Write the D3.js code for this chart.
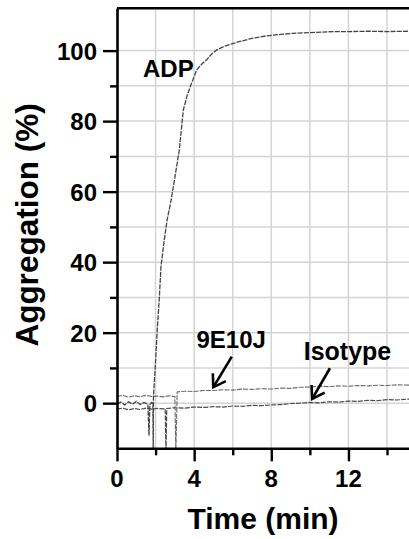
<!DOCTYPE html>
<html>
<head>
<meta charset="utf-8">
<script src="https://cdn.jsdelivr.net/npm/d3@7"></script>
<style>
  html, body { margin: 0; padding: 0; background: #fff; }
  svg { display: block; }
  text { font-family: "Liberation Sans", Arial, Helvetica, sans-serif; font-weight: 700; fill: #000; }
</style>
</head>
<body>
<svg id="chart" width="409" height="539"></svg>
<script>
// Aggregometry traces: time (min) vs aggregation (%)
const adpTrace = [
  [0, -0.2], [0.2, 0.3], [0.4, -0.5], [0.6, 0.4], [0.8, -0.3], [1.0, 0.5], [1.2, -0.4],
  [1.4, 0.2], [1.6, -0.3], [1.66, -9.2], [1.70, -0.4], [1.80, 0.2], [1.86, -0.3],
  [1.88, -14], [1.89, 1.9], [2.0, 12], [2.1, 22], [2.19, 29.4], [2.28, 38.7], [2.45, 46.3],
  [2.6, 52], [2.78, 56.8], [3.0, 64], [3.23, 71.8], [3.44, 83.2], [3.65, 87.5], [3.87, 90.8],
  [4.13, 94.5], [4.4, 96.2], [4.65, 97.4], [4.9, 99.0], [5.17, 100.2], [5.6, 101.3],
  [6.0, 102.0], [6.37, 102.6], [7.0, 103.5], [7.76, 104.2], [8.5, 104.6], [9.12, 104.9],
  [10, 105.1], [11.2, 105.4], [12, 105.4], [13, 105.5], [14, 105.4], [15.2, 105.5]
];
const mAbTrace = [
  [0, 1.9], [0.3, 2.2], [0.6, 1.7], [0.9, 2.1], [1.2, 1.8], [1.5, 2.2], [1.8, 1.9], [2.1, 2.0],
  [2.4, 1.8], [2.7, 2.1], [3.0, 1.9], [3.05, -14], [3.12, 3.2], [3.5, 3.4], [4, 3.3], [4.5, 3.6],
  [5, 3.6], [5.5, 3.8], [6, 3.7], [6.5, 4.0], [7, 3.9], [7.5, 4.1], [8, 4.0], [8.5, 4.3],
  [9, 4.2], [9.5, 4.5], [10, 4.6], [10.5, 4.8], [11, 4.7], [11.5, 4.9], [12, 4.8], [12.5, 5.0],
  [13, 4.9], [13.5, 5.1], [14, 5.0], [14.5, 5.2], [15.2, 5.1]
];
const isotypeTrace = [
  [0, -1.7], [0.3, -1.4], [0.6, -1.9], [0.9, -1.5], [1.2, -1.8], [1.5, -1.4], [1.8, -1.7],
  [2.1, -1.5], [2.5, -1.6], [2.54, -14], [2.58, -1.5], [3, -1.3], [3.5, -1.4], [4, -1.1],
  [4.5, -1.2], [5, -1.0], [5.5, -1.1], [6, -0.8], [6.5, -0.9], [7, -0.6], [7.5, -0.7], [8, -0.5],
  [8.5, -0.4], [9, -0.1], [9.5, 0.0], [10, 0.2], [10.5, 0.1], [11, 0.4], [11.5, 0.3], [12, 0.6],
  [12.5, 0.5], [13, 0.8], [13.5, 0.7], [14, 1.0], [14.5, 0.9], [15.2, 1.2]
];

const xMajorTicks = [0, 4, 8, 12];
const xMinorTicks = [2, 6, 10, 14];
const yMajorTicks = [0, 20, 40, 60, 80, 100];
const yMinorTicks = [10, 30, 50, 70, 90];
const xGrid = [2, 4, 6, 8, 10, 12, 14];
const yGrid = [0, 10, 20, 30, 40, 50, 60, 70, 80, 90, 100];

// labels: text, anchor point (t, %)
const traceLabels = [
  { text: "ADP", t: 1.35, v: 92.6, size: 24 },
  { text: "9E10J", t: 4.12, v: 15.6, size: 24 },
  { text: "Isotype", t: 9.68, v: 12.3, size: 25 }
];
// arrows: tail -> tip in data units
const arrows = [
  { from: [5.95, 13.2], to: [4.99, 4.5] },
  { from: [11.04, 9.9], to: [10.12, 1.2] }
];

const svg = d3.select("#chart");
const plotL = 117, plotR = 409.2, plotT = 8.3, plotB = 448.3;

const x = d3.scaleLinear().domain([0, 15.15]).range([plotL, plotR]);
const y = d3.scaleLinear().domain([-12.8, 112]).range([plotB, plotT]);

svg.append("defs").append("clipPath").attr("id", "plot")
  .append("rect").attr("x", plotL).attr("y", plotT).attr("width", plotR - plotL).attr("height", plotB - plotT);

// grid
const grid = svg.append("g").attr("stroke", "#d4d4d4").attr("stroke-width", 1.5);
grid.selectAll(".gx").data(xGrid).join("line").attr("class", "gx")
  .attr("x1", d => x(d)).attr("x2", d => x(d)).attr("y1", plotT).attr("y2", plotB);
grid.selectAll(".gy").data(yGrid).join("line").attr("class", "gy")
  .attr("x1", plotL).attr("x2", plotR).attr("y1", d => y(d)).attr("y2", d => y(d));

// traces
const line = d3.line().x(d => x(d[0])).y(d => y(d[1]));
const traces = svg.append("g").attr("clip-path", "url(#plot)").attr("fill", "none");
traces.append("path").datum(isotypeTrace).attr("d", line)
  .attr("stroke", "#4a4a4a").attr("stroke-width", 1.2).attr("stroke-dasharray", "5,1.2");
traces.append("path").datum(mAbTrace).attr("d", line)
  .attr("stroke", "#6a6a6a").attr("stroke-width", 1.1).attr("stroke-dasharray", "5,1.2");
traces.append("path").datum(adpTrace).attr("d", line)
  .attr("stroke", "#444").attr("stroke-width", 1.3).attr("stroke-dasharray", "5,1.2");

// top frame line
svg.append("line").attr("x1", plotL).attr("x2", 409).attr("y1", plotT).attr("y2", plotT)
  .attr("stroke", "#000").attr("stroke-width", 2.4);

// axes (tick marks and spines); numeric labels drawn separately below
function styleAxis(g) {
  g.select(".domain").attr("stroke", "#000").attr("stroke-width", 2.6);
  g.selectAll(".tick line").attr("stroke", "#000").attr("stroke-width", 2.4);
  g.selectAll(".tick text").remove();
}
const yAxisG = svg.append("g").attr("transform", `translate(${plotL},0)`)
  .call(d3.axisLeft(y).tickValues(yMajorTicks).tickSize(14).tickSizeOuter(0));
styleAxis(yAxisG);
const yMinorG = svg.append("g").attr("transform", `translate(${plotL},0)`)
  .call(d3.axisLeft(y).tickValues(yMinorTicks).tickSize(7).tickSizeOuter(0));
styleAxis(yMinorG);
yMinorG.select(".domain").remove();

const xAxisG = svg.append("g").attr("transform", `translate(0,${plotB})`)
  .call(d3.axisBottom(x).tickValues(xMajorTicks).tickSize(13).tickSizeOuter(0));
styleAxis(xAxisG);
const xMinorG = svg.append("g").attr("transform", `translate(0,${plotB})`)
  .call(d3.axisBottom(x).tickValues(xMinorTicks).tickSize(7).tickSizeOuter(0));
styleAxis(xMinorG);
xMinorG.select(".domain").remove();

// tick labels
svg.append("g").selectAll("text").data(yMajorTicks).join("text")
  .attr("x", plotL - 20).attr("y", d => y(d)).attr("dy", "0.38em")
  .attr("text-anchor", "end").attr("font-size", 24).text(d => d);
svg.append("g").selectAll("text").data(xMajorTicks).join("text")
  .attr("x", d => x(d)).attr("y", plotB + 38.5)
  .attr("text-anchor", "middle").attr("font-size", 24).text(d => d);

// axis titles
svg.append("text").attr("x", 263).attr("y", 528.5).attr("text-anchor", "middle")
  .attr("font-size", 30).text("Time (min)");
svg.append("text").attr("transform", "translate(37.5,225) rotate(-90)").attr("text-anchor", "middle")
  .attr("font-size", 31.5).text("Aggregation (%)");

// trace labels
svg.selectAll(".tl").data(traceLabels).join("text").attr("class", "tl")
  .attr("x", d => x(d.t)).attr("y", d => y(d.v)).attr("font-size", d => d.size)
  .text(d => d.text);

// arrows with open heads
const arrowG = svg.append("g").attr("stroke", "#000").attr("stroke-width", 2.6)
  .attr("fill", "none").attr("stroke-linecap", "butt");
arrows.forEach(a => {
  const x0 = x(a.from[0]), y0 = y(a.from[1]), x1 = x(a.to[0]), y1 = y(a.to[1]);
  const ang = Math.atan2(y1 - y0, x1 - x0);
  const len = 14, spread = Math.PI / 5.5;
  arrowG.append("line").attr("x1", x0).attr("y1", y0).attr("x2", x1).attr("y2", y1);
  const p1 = [x1 - len * Math.cos(ang - spread), y1 - len * Math.sin(ang - spread)];
  const p2 = [x1 - len * Math.cos(ang + spread), y1 - len * Math.sin(ang + spread)];
  arrowG.append("path").attr("d", `M${p1[0]},${p1[1]}L${x1},${y1}L${p2[0]},${p2[1]}`)
    .attr("stroke-linejoin", "miter");
});
</script>
</body>
</html>
